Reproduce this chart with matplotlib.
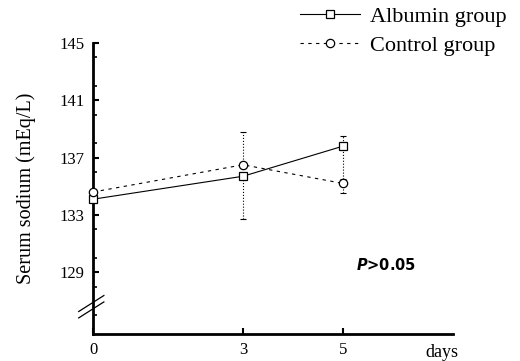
import matplotlib
matplotlib.use("Agg")
import matplotlib.pyplot as plt
from matplotlib.ticker import MultipleLocator

days = [0, 3, 5]
albumin = [134.1, 135.7, 137.8]
albumin_err_low = [0.0, 3.0, 2.3]
albumin_err_high = [0.0, 0.0, 0.7]
control = [134.6, 136.5, 135.2]
control_err_low = [0.0, 0.0, 0.7]
control_err_high = [0.0, 2.3, 0.0]
yticks = [129, 133, 137, 141, 145]

serif = ["Liberation Serif", "DejaVu Serif"]

fig = plt.figure(figsize=(5.2, 3.61), dpi=100)
ax = fig.add_axes([0.179, 0.075, 0.692, 0.806])

ax.errorbar(days, albumin, yerr=[albumin_err_low, albumin_err_high], fmt="none",
            ecolor="black", elinewidth=0.8, capsize=2, capthick=0.8, clip_on=False)
ax.errorbar(days, control, yerr=[control_err_low, control_err_high], fmt="none",
            ecolor="black", elinewidth=0.8, capsize=2, capthick=0.8, clip_on=False)
for eb in ax.containers:
    for lc in eb.lines[2]:
        lc.set_linestyle(":")

la, = ax.plot(days, albumin, color="black", lw=0.8, marker="s", ms=6, mfc="white",
              mec="black", mew=0.9, clip_on=False, zorder=3, label="Albumin group")
lcn, = ax.plot(days, control, color="black", lw=0.8, ls=(0, (3, 4)), marker="o", ms=6,
               mfc="white", mec="black", mew=0.9, clip_on=False, zorder=3, label="Control group")

ax.set_xlim(0, 7.2)
ax.set_ylim(124.7, 145)
ax.set_xticks(days)
ax.set_yticks(yticks)
ax.yaxis.set_minor_locator(MultipleLocator(2))
ax.tick_params(axis="both", direction="in", width=1.5, length=4, labelsize=12, pad=6)
ax.tick_params(axis="y", which="minor", direction="in", width=1.2, length=3)
for lab in ax.get_xticklabels() + ax.get_yticklabels():
    lab.set_fontfamily(serif)

for s in ["top", "right"]:
    ax.spines[s].set_visible(False)
for s in ["left", "bottom"]:
    ax.spines[s].set_linewidth(2)

# axis break marks
for dy in (0.0, 0.022):
    ax.plot([-0.04, 0.03], [0.055 + dy, 0.11 + dy], transform=ax.transAxes,
            color="black", lw=0.9, clip_on=False)

ax.set_ylabel("Serum sodium (mEq/L)", fontfamily=serif, fontsize=14.5, labelpad=17)
ax.text(6.64, 124.0, "days", fontfamily=serif, fontsize=13, va="top", ha="left")

ax.text(5.86, 129.5, r"$\bfit{P}$" + ">0.05", fontsize=10.5, fontweight="bold",
        ha="center", va="center", fontfamily="DejaVu Sans")

fig.legend(handles=[la, lcn], loc="upper right", bbox_to_anchor=(1.0, 1.02),
           frameon=False, prop={"family": serif, "size": 16}, handlelength=2.7,
           handletextpad=0.45, labelspacing=0.4, borderaxespad=0.2)

fig.savefig("out.png", dpi=100)
